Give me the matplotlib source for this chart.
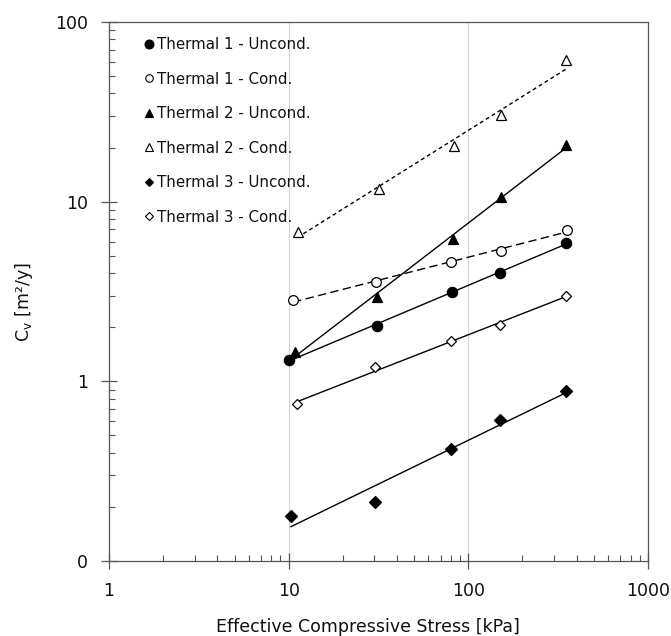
import numpy as np
import matplotlib
matplotlib.use("Agg")
import matplotlib.pyplot as plt
from matplotlib.lines import Line2D
from matplotlib.ticker import LogLocator, NullFormatter

# ---- data ----
labels = ["Thermal 1 - Uncond.", "Thermal 1 - Cond.", "Thermal 2 - Uncond.",
          "Thermal 2 - Cond.", "Thermal 3 - Uncond.", "Thermal 3 - Cond."]

t1u_x = [10.0, 31.0, 81.0, 151.0, 350.0]
t1u_y = [1.32, 2.04, 3.13, 4.02, 5.91]
t1c_x = [10.6, 30.8, 80.4, 152.0, 354.0]
t1c_y = [2.82, 3.56, 4.64, 5.30, 6.99]
t2u_x = [10.9, 31.2, 82.0, 152.0, 350.0]
t2u_y = [1.46, 2.94, 6.21, 10.6, 20.7]
t2c_x = [11.2, 31.7, 83.0, 152.0, 350.0]
t2c_y = [6.81, 11.8, 20.3, 30.3, 61.2]
t3u_x = [10.3, 30.3, 80.4, 150.7, 350.0]
t3u_y = [0.178, 0.212, 0.419, 0.612, 0.883]
t3c_x = [11.1, 30.1, 80.4, 150.7, 350.0]
t3c_y = [0.745, 1.20, 1.67, 2.07, 2.98]

x_ticks = [1, 10, 100, 1000]
x_ticklabels = ["1", "10", "100", "1000"]
y_ticks = [0.1, 1, 10, 100]
y_ticklabels = ["0", "1", "10", "100"]

# ---- styles ----
series = [
    (t1u_x, t1u_y, dict(marker="o", ms=7.4, mfc="black"), "-"),
    (t1c_x, t1c_y, dict(marker="o", ms=7.0, mfc="white"), (0, (6, 3.2))),
    (t2u_x, t2u_y, dict(marker="^", ms=7.0, mfc="black"), "-"),
    (t2c_x, t2c_y, dict(marker="^", ms=6.6, mfc="white"), (0, (2.8, 2.2))),
    (t3u_x, t3u_y, dict(marker="D", ms=5.8, mfc="black"), "-"),
    (t3c_x, t3c_y, dict(marker="D", ms=5.2, mfc="white"), "-"),
]
legend_ms = [6.4, 5.4, 5.6, 5.2, 4.4, 4.2]

plt.rcParams["font.family"] = ["DejaVu Sans"]
fig = plt.figure(figsize=(6.71, 6.36), dpi=100)
ax = fig.add_axes([109 / 671, 1 - 561 / 636, 539 / 671, 539 / 636])
ax.set_xscale("log")
ax.set_yscale("log")
ax.set_xlim(1, 1000)
ax.set_ylim(0.1, 100)

# vertical gridlines only
ax.grid(True, axis="x", which="major", color="#d4d4d4", lw=0.8)
ax.set_axisbelow(True)

for (xs, ys, mk, ls) in series:
    xs = np.asarray(xs); ys = np.asarray(ys)
    # power-law trend line (least squares in log-log space)
    b, a = np.polyfit(np.log10(xs), np.log10(ys), 1)
    xl = np.array([xs.min(), xs.max()])
    ax.plot(xl, 10 ** (a + b * np.log10(xl)), color="black", lw=1.0,
            linestyle=ls, zorder=2)
    ax.plot(xs, ys, linestyle="none", mec="black", mew=0.9, zorder=3, **mk)

# legend (markers only)
handles = []
for (xs, ys, mk, ls), ms in zip(series, legend_ms):
    handles.append(Line2D([], [], linestyle="none", marker=mk["marker"],
                          mfc=mk["mfc"], mec="black", mew=0.8, ms=ms))
leg = ax.legend(handles, labels, loc="upper left", bbox_to_anchor=(0.068, 0.972),
                frameon=False, fontsize=10.8, handlelength=0.5,
                handletextpad=0.25, labelspacing=1.30, borderpad=0,
                borderaxespad=0)
for t in leg.get_texts():
    t.set_color("#111111")

# ticks
ax.set_xticks(x_ticks, labels=x_ticklabels)
ax.set_yticks(y_ticks, labels=y_ticklabels)
ax.xaxis.set_minor_locator(LogLocator(base=10, subs=np.arange(2, 10)))
ax.yaxis.set_minor_locator(LogLocator(base=10, subs=np.arange(2, 10)))
ax.xaxis.set_minor_formatter(NullFormatter())
ax.yaxis.set_minor_formatter(NullFormatter())
ax.tick_params(which="major", direction="inout", length=12, width=0.9,
               color="#555555", labelsize=12.5, labelcolor="#111111")
ax.tick_params(which="minor", direction="in", length=4.3, width=0.8,
               color="#555555")
for side in ["left", "right", "top", "bottom"]:
    ax.spines[side].set_color("#555555")
    ax.spines[side].set_linewidth(0.9)
ax.tick_params(axis="x", which="major", pad=9)
ax.tick_params(axis="y", which="major", pad=9)

ax.set_xlabel("Effective Compressive Stress [kPa]", fontsize=12.5, color="#111111")
ax.set_ylabel(r"C$_\mathregular{v}$ [m²/y]", fontsize=12.5, color="#111111")
ax.xaxis.set_label_coords((368 - 109) / 539, -(618 - 561) / 539)
ax.yaxis.set_label_coords(-(109 - 35) / 539, (561 - 301.7) / 539)

fig.savefig("out.png", dpi=100)
